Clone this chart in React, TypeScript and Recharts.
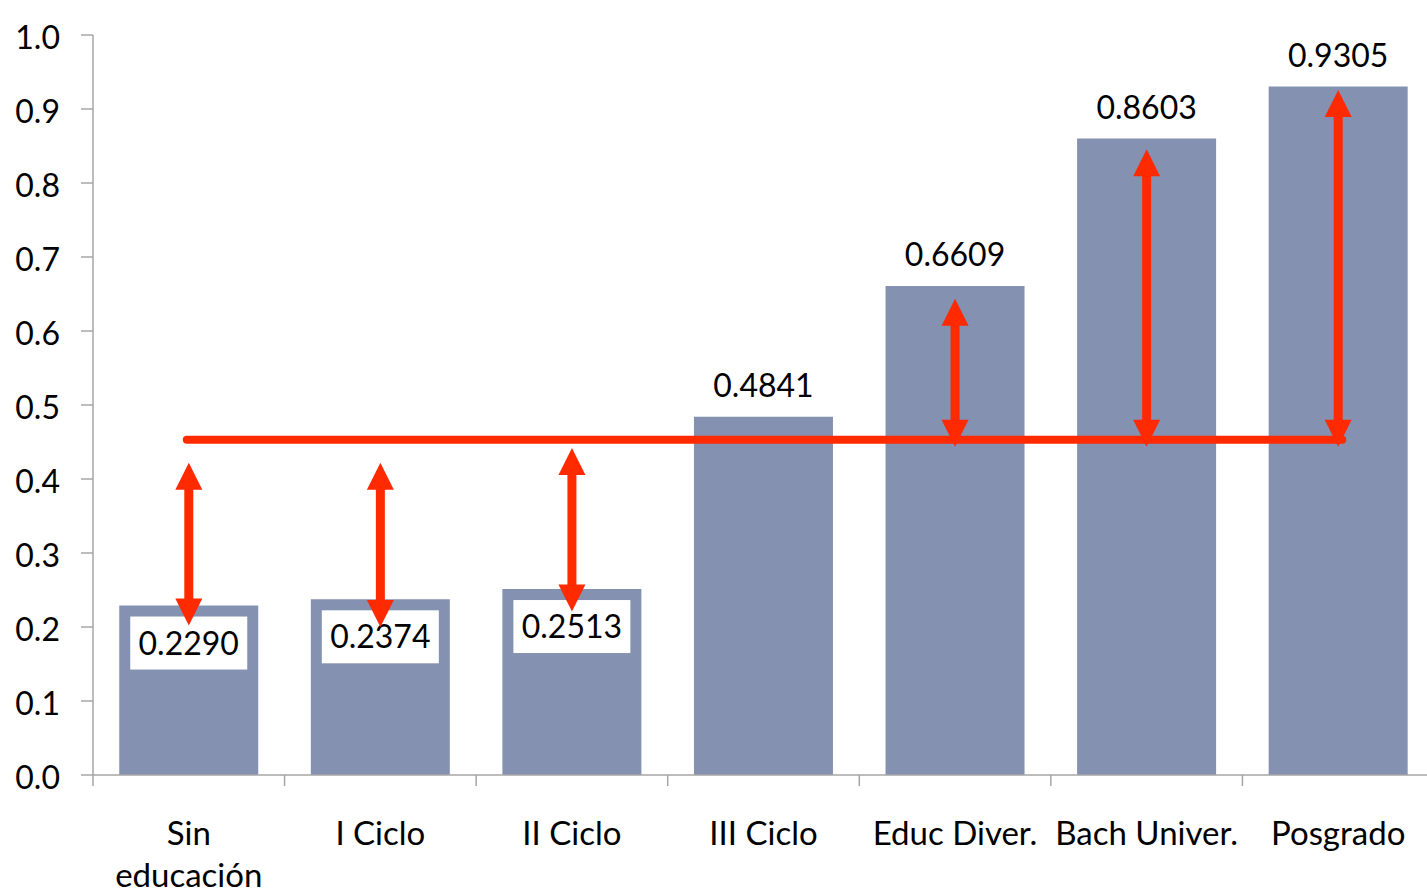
import React from 'react';
import { BarChart, Bar, XAxis, YAxis, ReferenceLine, LabelList } from 'recharts';

const categories = ['Sin\neducación', 'I Ciclo', 'II Ciclo', 'III Ciclo', 'Educ Diver.', 'Bach Univer.', 'Posgrado'];
const values = [0.229, 0.2374, 0.2513, 0.4841, 0.6609, 0.8603, 0.9305];
const valueLabels = ['0.2290', '0.2374', '0.2513', '0.4841', '0.6609', '0.8603', '0.9305'];
const yTicks = [0, 0.1, 0.2, 0.3, 0.4, 0.5, 0.6, 0.7, 0.8, 0.9, 1.0];
const yTickLabels = ['0.0', '0.1', '0.2', '0.3', '0.4', '0.5', '0.6', '0.7', '0.8', '0.9', '1.0'];
const referenceValue = 0.453;
const arrowLow = [0.202, 0.2, 0.221, null, 0.4436, 0.4436, 0.4436];
const arrowHigh = [0.422, 0.422, 0.442, null, 0.6436, 0.8455, 0.9257];

const data = categories.map((name, i) => ({ name, value: values[i], label: valueLabels[i] }));

const FONT = 'Lato, "Open Sans", sans-serif';
const RED = '#FF2A00';
const BAR = '#8491B0';
const AXIS = '#A6A6A6';

const YTick = (props: any) => {
  const { x, y, payload } = props;
  const idx = yTicks.indexOf(payload.value);
  return (
    <text x={x} y={y} dy={14} textAnchor="end" fontSize={32} fontFamily={FONT} fill="#000">
      {idx >= 0 ? yTickLabels[idx] : payload.value}
    </text>
  );
};

const XTick = (props: any) => {
  const { x, y, payload, index } = props;
  const off = payload && typeof payload.offset === 'number' && payload.offset > 0 ? payload.offset : 95.7;
  const lines = String(payload.value).split('\n');
  return (
    <g>
      <line x1={x - off} x2={x - off} y1={y} y2={y + 11} stroke={AXIS} strokeWidth={1.5} />
      {index === categories.length - 1 && (
        <line x1={x + off} x2={x + off} y1={y} y2={y + 11} stroke={AXIS} strokeWidth={1.5} />
      )}
      {lines.map((ln, i) => (
        <text key={i} x={x} y={y + 70 + i * 42} textAnchor="middle" fontSize={33} fontFamily={FONT} fill="#000">
          {ln}
        </text>
      ))}
    </g>
  );
};

const ValueLabel = (props: any) => {
  const { x, y, width, value, index } = props;
  const cx = x + width / 2;
  if (values[index] < referenceValue) {
    const bw = 117;
    const bh = 53;
    const top = y + 11;
    return (
      <g>
        <rect x={cx - bw / 2} y={top} width={bw} height={bh} fill="#fff" />
        <text x={cx} y={top + bh / 2 + 11.5} textAnchor="middle" fontSize={32} fontFamily={FONT} fill="#000">
          {value}
        </text>
      </g>
    );
  }
  return (
    <text x={cx} y={y - 31 + 11.5} textAnchor="middle" fontSize={32} fontFamily={FONT} fill="#000">
      {value}
    </text>
  );
};

const DoubleArrow = (props: any) => {
  const { x1, y1, x2, y2 } = props;
  const x = (x1 + x2) / 2;
  const top = Math.min(y1, y2);
  const bottom = Math.max(y1, y2);
  const hw = 13.5;
  const hh = 27;
  return (
    <g>
      <line x1={x} x2={x} y1={top + hh - 1} y2={bottom - hh + 1} stroke={RED} strokeWidth={9} />
      <polygon points={`${x},${top} ${x - hw},${top + hh} ${x + hw},${top + hh}`} fill={RED} />
      <polygon points={`${x},${bottom} ${x - hw},${bottom - hh} ${x + hw},${bottom - hh}`} fill={RED} />
    </g>
  );
};

const HLine = (props: any) => {
  const { x1, y1, x2, y2 } = props;
  return (
    <line x1={Math.min(x1, x2) - 2} x2={Math.max(x1, x2) + 4} y1={y1} y2={y2} stroke={RED} strokeWidth={8} strokeLinecap="round" />
  );
};

export default function App() {
  return (
    <div style={{ position: 'absolute', left: 0, top: 0, width: 1427, height: 893, overflow: 'hidden', background: '#fff' }}>
      <BarChart
        width={1434}
        height={893}
        data={data}
        margin={{ top: 35, right: 0, bottom: 0, left: 0 }}
        barCategoryGap="13.7%"
      >
        <XAxis
          dataKey="name"
          height={118}
          interval={0}
          tickLine={false}
          tickSize={0}
          tickMargin={0}
          axisLine={{ stroke: AXIS, strokeWidth: 1.5 }}
          tick={<XTick />}
        />
        <YAxis
          width={93}
          domain={[0, 1]}
          ticks={yTicks}
          interval={0}
          tickSize={12}
          tickMargin={21}
          axisLine={{ stroke: AXIS, strokeWidth: 1.5 }}
          tickLine={{ stroke: AXIS, strokeWidth: 1.5 }}
          tick={<YTick />}
        />
        <Bar dataKey="value" fill={BAR} isAnimationActive={false}>
          <LabelList dataKey="label" content={<ValueLabel />} />
        </Bar>
        <ReferenceLine
          {...({ zIndex: 2000 } as any)}
          segment={[
            { x: categories[0], y: referenceValue },
            { x: categories[categories.length - 1], y: referenceValue },
          ]}
          shape={HLine}
        />
        {categories.map((c, i) =>
          arrowLow[i] != null && arrowHigh[i] != null ? (
            <ReferenceLine
              key={c}
              {...({ zIndex: 2000 } as any)}
              segment={[
                { x: c, y: arrowLow[i] as number },
                { x: c, y: arrowHigh[i] as number },
              ]}
              shape={DoubleArrow}
            />
          ) : null
        )}
      </BarChart>
    </div>
  );
}
